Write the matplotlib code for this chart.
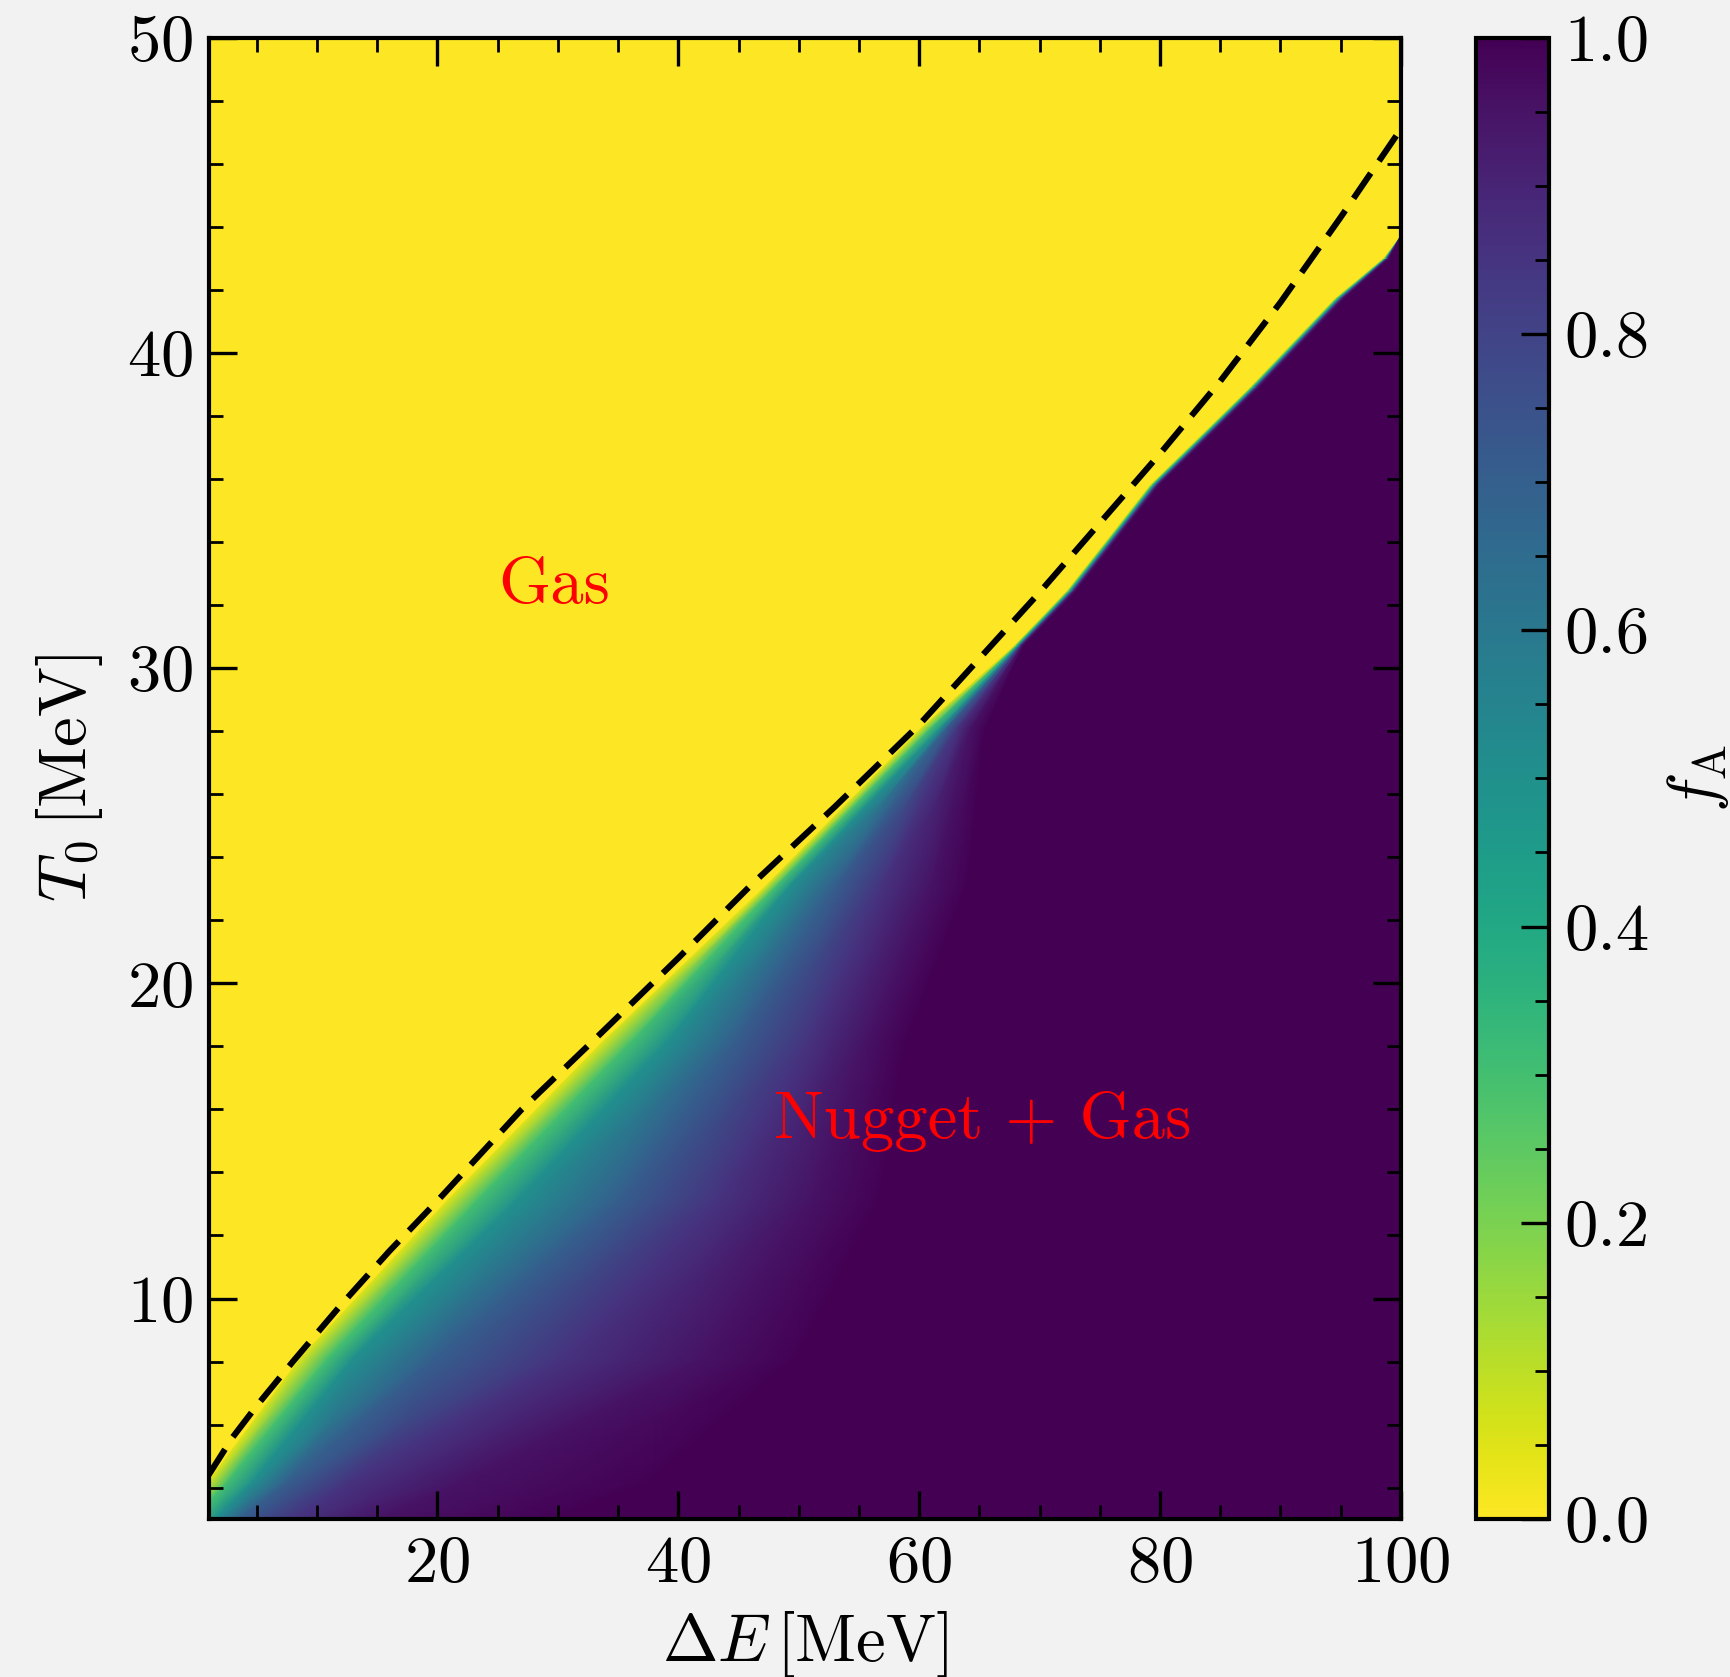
import numpy as np
import matplotlib
matplotlib.use("Agg")
import matplotlib.pyplot as plt
from matplotlib.ticker import MultipleLocator

# f_A: for each T0 row, the Delta E where f_A reaches each level
# (first column = upper edge of the nugget region)
levels = [0.05, 0.3, 0.5, 0.7, 0.85, 0.95, 1.0, 1.0]
T0_rows = [3, 4.2, 8.1, 13.1, 18.1, 23.1, 28.1, 30.7, 32.45, 35.8, 38.9, 41.7, 43.0, 43.7]
dE_at_level = [
    [-1.5, -0.3, 1.5, 3.5, 8.0, 15.0, 30.0, 100],
    [1.0, 2.6, 4.7, 7.6, 12.6, 22.0, 38.0, 100],
    [8.6, 10.9, 13.0, 19.6, 30.0, 42.0, 50.0, 100],
    [20.8, 23.3, 26.6, 34.9, 43.0, 51.0, 56.8, 100],
    [33.6, 36.0, 39.0, 44.5, 50.6, 55.5, 58.9, 100],
    [47.3, 48.2, 49.3, 53.0, 56.8, 61.0, 64.0, 100],
    [60.2, 61.0, 61.8, 62.3, 63.2, 64.3, 65.5, 100],
    [67.9, 68.05, 68.2, 68.3, 68.4, 68.5, 68.7, 100],
    [72.3, 72.45, 72.6, 72.7, 72.8, 72.9, 73.1, 100],
    [79.2, 79.35, 79.5, 79.6, 79.7, 79.8, 80.0, 100],
    [87.5, 87.65, 87.8, 87.9, 88.0, 88.1, 88.3, 100],
    [94.5, 94.65, 94.8, 94.9, 95.0, 95.1, 95.3, 100],
    [98.6, 98.7, 98.8, 98.85, 98.9, 98.95, 99.1, 100],
    [100, 100, 100, 100, 100, 100, 100, 100],
]

# dashed line
line_dE = [1, 3, 5, 8, 12, 16, 20, 27, 33, 40, 46, 53, 60, 65, 70, 75, 80, 85, 90, 95, 100]
line_T0 = [4.4, 5.6, 6.6, 8.0, 9.8, 11.5, 13.1, 16.0, 18.2, 20.8, 23.1, 25.6, 28.2, 30.3, 32.4,
           34.6, 36.8, 39.1, 41.6, 44.3, 47.1]

plt.rcParams.update({
    "font.family": "serif",
    "font.serif": ["cmr10"],
    "mathtext.fontset": "cm",
    "axes.formatter.use_mathtext": True,
    "font.size": 24,
    "axes.linewidth": 1.5,
    "xtick.direction": "in",
    "ytick.direction": "in",
    "xtick.top": True,
    "ytick.right": True,
    "xtick.major.size": 10,
    "ytick.major.size": 10,
    "xtick.minor.size": 5,
    "ytick.minor.size": 5,
    "xtick.major.width": 1.2,
    "ytick.major.width": 1.2,
    "xtick.minor.width": 1.0,
    "ytick.minor.width": 1.0,
    "xtick.major.pad": 6,
    "ytick.major.pad": 5.5,
})

cmap = plt.get_cmap("viridis_r")
bg = "#f2f2f2"

fig = plt.figure(figsize=(8.655, 8.385), dpi=200, facecolor=bg)
ax = fig.add_axes([0.1205, 0.0941, 0.6888, 0.8835])
cax = fig.add_axes([0.8527, 0.0941, 0.0421, 0.8835])
ax.set_facecolor(cmap(0.0))

X = np.array(dE_at_level)
Y = np.repeat(np.array(T0_rows)[:, None], len(levels), axis=1)
C = np.tile(levels, (len(T0_rows), 1))
mesh = ax.pcolormesh(X, Y, C, shading="gouraud", cmap=cmap, vmin=0, vmax=1)
ax.plot(line_dE, line_T0, color="black", lw=2.2, ls=(0, (5.0, 2.4)), zorder=3)

ax.text(29.7, 32.6, "Gas", color="red", ha="center", va="center")
ax.text(65.3, 15.6, "Nugget + Gas", color="red", ha="center", va="center")

ax.set_xlim(1, 100)
ax.set_ylim(3, 50)
ax.xaxis.set_major_locator(MultipleLocator(20))
ax.xaxis.set_minor_locator(MultipleLocator(5))
ax.yaxis.set_major_locator(MultipleLocator(10))
ax.yaxis.set_minor_locator(MultipleLocator(2))
ax.set_xlabel(r"$\Delta E\,[\mathrm{MeV}]$", labelpad=5)
ax.set_ylabel(r"$T_0\,[\mathrm{MeV}]$", labelpad=8)

cb = fig.colorbar(mesh, cax=cax)
cb.set_ticks([0, 0.2, 0.4, 0.6, 0.8, 1.0])
cb.ax.yaxis.set_major_formatter(plt.FormatStrFormatter("%.1f"))
cb.ax.yaxis.set_minor_locator(MultipleLocator(0.05))
cb.ax.tick_params(which="both", direction="in", right=True, left=False)
cb.outline.set_linewidth(1.5)
cb.set_label(r"$f_{\mathrm{A}}$", labelpad=5.5)

fig.savefig("out.png", dpi=200, facecolor=bg)
